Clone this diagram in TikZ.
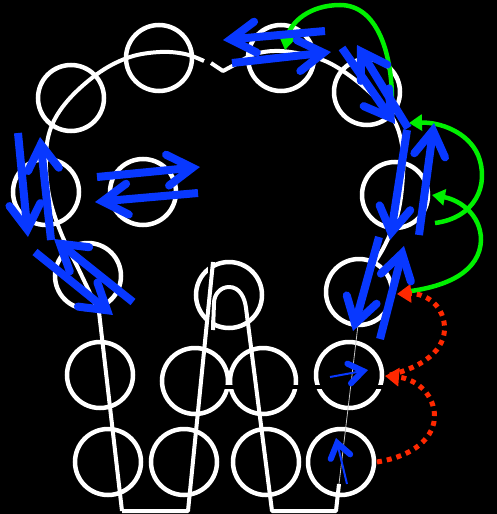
\documentclass[tikz,border=0pt]{standalone}
\usetikzlibrary{arrows.meta}
\definecolor{bl}{RGB}{8,56,255}
\definecolor{gr}{RGB}{0,240,0}
\definecolor{rd}{RGB}{255,40,0}
\begin{document}
\begin{tikzpicture}[x=1pt,y=-1pt,
 ring/.style={draw=white,line width=4.5pt},
 wline/.style={draw=white,line width=4pt,line join=round},
 cut/.style={draw=black,line width=4pt},
 barrow/.style={draw=bl,line width=8pt,-{Straight Barb[length=25pt,width=31pt,line cap=round,line join=miter]}},
 tarrow/.style={draw=bl,line width=2pt,-{Straight Barb[length=14pt,width=20pt,line width=6pt,line cap=round]}},
 garrow/.style={draw=gr,line width=4.5pt,-{Triangle[length=13pt,width=16pt]}},
 rarrow/.style={draw=rd,line width=5pt,dash pattern=on 5pt off 5pt,-{Triangle[length=14pt,width=18pt]}}]
\fill[black] (0,0) rectangle (497,514);
\useasboundingbox (0,0) rectangle (497,514);
% circles
\foreach \p in {(159,58),(71,98),(281,58),(367,92),(46,192),(143,192),(395,195),
  (88,276),(229,295),(359,292),(100,375),(195,381),(263,381),(349,375),
  (108,462),(184,462),(266,462),(341,462)}
  \draw[ring] \p circle[radius=33pt];
% black cuts
\draw[cut] (224,387) -- (388,387);
\draw[black,line width=2.5pt] (209.5,258) -- (209.5,330);
% outline: left lobe
\draw[wline] (122,511) -- plot[smooth,tension=0.6] coordinates {(99,312) (79,270) (61,233) (49,195) (46,155) (52,125) (70,98) (100,72) (130,57) (160,52) (185,54) (204,61)};
% notch and right lobe
\draw[wline] (211,63) -- (223,71) -- (236,64) -- plot[smooth,tension=0.6] coordinates {(236,64) (255,54) (280,51) (310,56) (335,66) (365,88) (392,117) (402,145) (403,175) (398,213) (385,245) (369,273) (361,300) (358,325)};
\draw[gray!45,line width=0.8pt] (358,325) -- (339,484);
\draw[wline] (339,484) -- (336,511) -- (272,511) -- (246,308)
  to[out=97,in=0] (229,287) to[out=180,in=90] (214,303) -- (213,330);
\draw[wline] (213,262) -- (188,511) -- (122,511);
% green arrows
\draw[garrow] (392,100) .. controls (392,55) and (378,5) .. (340,5) .. controls (310,5) and (290,22) .. (285,50);
\draw[garrow] (435,223) .. controls (475,218) and (490,185) .. (478,155) .. controls (468,132) and (440,122) .. (409,123);
\draw[garrow] (403,292) .. controls (450,287) and (480,270) .. (481,240) .. controls (481,215) and (460,200) .. (432,195);
% red dotted arrows
\draw[rarrow] (390,375) .. controls (430,365) and (448,345) .. (444,322) .. controls (440,300) and (420,293) .. (397,294);
\draw[rarrow] (377,462) .. controls (420,455) and (438,432) .. (434,410) .. controls (430,388) and (410,378) .. (385,376);
% blue arrows
\draw[barrow] (325,31) -- (223,40);
\draw[barrow] (232,63) -- (331,52);
\draw[barrow] (342,48) -- (395,124);
\draw[barrow] (408,128) -- (357,45);
\draw[barrow] (407,130) -- (390,240);
\draw[barrow] (419,235) -- (434,123);
\draw[barrow] (379,237) -- (353,331);
\draw[barrow] (380,339) -- (404,246);
\draw[barrow] (18,133) -- (28,237);
\draw[barrow] (51,240) -- (40,137);
\draw[barrow] (97,177) -- (200,167);
\draw[barrow] (198,193) -- (95,202);
\draw[barrow] (35,252) -- (113,315);
\draw[barrow] (133,302) -- (54,239);
\draw[tarrow] (330,377) -- (368,370);
\draw[tarrow] (347,484) -- (336,438);
\end{tikzpicture}
\end{document}
